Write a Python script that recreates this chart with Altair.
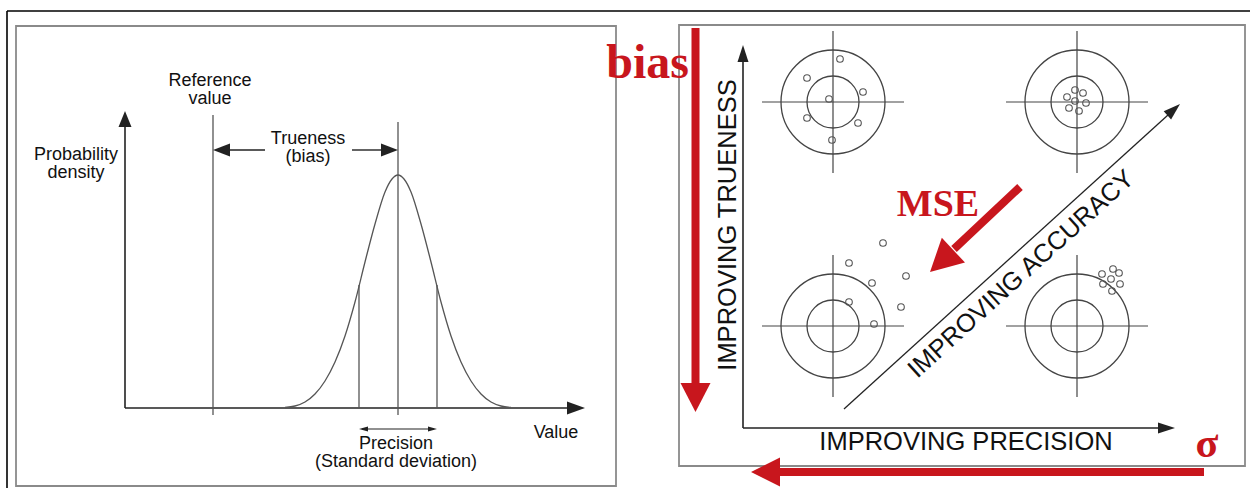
import altair as alt
import pandas as pd

W, H = 1250, 488
RED = "#c8161d"
INK = "#222222"
GREY = "#444444"

# ---------------- geometry (canvas pixels) ----------------
frame_lines = [(7, 11, 1250, 11), (7, 11, 7, 488)]
boxes = [(16, 26, 616, 486), (679, 25, 1245, 466)]

# left panel
left_axes = [(125, 408, 125, 126), (125, 408, 568, 408)]
left_verticals = [(213, 115, 213, 415), (398, 122, 398, 415),
                  (359, 285, 359, 408), (437, 285, 437, 408)]
trueness_shafts = [(229, 150, 265, 150), (352, 150, 382, 150)]
precision_shaft = [(362, 429, 434, 429)]

curve_x = [285, 295, 305, 315, 325, 335, 345, 355, 365, 375, 385, 392, 398,
           404, 411, 421, 431, 441, 451, 461, 471, 481, 491, 501, 511]
curve_y = [407.5, 406, 402, 394, 381, 362, 336, 302, 262, 224, 192, 179, 175,
           179, 192, 224, 262, 302, 336, 362, 381, 394, 402, 406, 407.5]

# right panel
right_axes = [(743, 428, 743, 62), (743, 428, 1158, 428)]
diag_line = [(844, 409, 1168, 115)]
red_shafts = [(695.5, 28, 695.5, 384), (1204, 472, 779, 472), (1020, 187, 954, 249)]

target_cx = [833, 1077, 833, 1077]
target_cy = [102, 102, 326, 326]
ring_r = [52, 26]
cross_half = 71

dots_x = [840, 807, 863, 829, 807, 858, 832,
          1075, 1083, 1067, 1075, 1086, 1069, 1079,
          883, 849, 906, 872, 849, 901, 874,
          1113, 1119, 1102, 1111, 1120, 1103, 1112]
dots_y = [59, 78, 92, 99, 118, 123, 140,
          90, 93, 97, 101, 103, 108, 111,
          243, 263, 276, 283, 302, 307, 324,
          269, 273, 274, 279, 284, 284, 291]

# arrowheads: tip x, tip y, length, width, angle (clockwise from up), colour
arrowheads = [
    (125, 111, 16, 13, 0, INK),
    (585, 408, 18, 13, 90, INK),
    (213, 150, 17, 13, 270, INK),
    (398, 150, 17, 13, 90, INK),
    (359, 429, 9, 5, 270, INK),
    (437, 429, 9, 5, 90, INK),
    (743, 45, 17, 11, 0, INK),
    (1175, 428, 17, 11, 90, INK),
    (1180, 104, 17, 11, 47.8, INK),
    (695.5, 412, 29, 30, 180, RED),
    (751, 472, 29, 29, 270, RED),
    (930, 272, 32, 34, 227, RED),
]

left_texts = [(210, 86, "Reference"), (210, 104, "value"),
              (76, 160, "Probability"), (76, 178, "density"),
              (308, 144, "Trueness"), (308, 162, "(bias)"),
              (396, 449, "Precision"), (396, 467, "(Standard deviation)"),
              (556, 438, "Value")]

# ---------------- helpers ----------------
XS = alt.Scale(domain=[0, W], nice=False, zero=False)
YS = alt.Scale(domain=[0, H], nice=False, zero=False, reverse=True)


def X(f="x"):
    return alt.X(f"{f}:Q", scale=XS, axis=None)


def Y(f="y"):
    return alt.Y(f"{f}:Q", scale=YS, axis=None)


def seg_layer(segs, color, width):
    df = pd.DataFrame(segs, columns=["x", "y", "x2", "y2"])
    return alt.Chart(df).mark_rule(color=color, strokeWidth=width, strokeCap="butt").encode(
        x=X(), y=Y(), x2="x2:Q", y2="y2:Q")


def head_layer(tx, ty, length, width, angle, color):
    w = width / (2.0 * length)
    shape = f"M0,0L{-w:.4f},1L{w:.4f},1Z"
    df = pd.DataFrame({"x": [tx], "y": [ty]})
    return alt.Chart(df).mark_point(shape=shape, size=(2 * length) ** 2, filled=True,
                                    color=color, opacity=1, angle=angle, strokeWidth=0).encode(
        x=X(), y=Y())


def text_layer(rows, font, size, color, weight="normal", align="center",
               baseline="alphabetic", angle=0):
    df = pd.DataFrame(rows, columns=["x", "y", "t"])
    return alt.Chart(df).mark_text(font=font, fontSize=size, color=color, fontWeight=weight,
                                   align=align, baseline=baseline, angle=angle).encode(
        x=X(), y=Y(), text="t:N")


layers = []

# boxes
box_df = pd.DataFrame(boxes, columns=["x", "y", "x2", "y2"])
layers.append(alt.Chart(box_df).mark_rect(fillOpacity=0, stroke="#8a8a8a", strokeWidth=1.8).encode(
    x=X(), y=Y(), x2="x2:Q", y2="y2:Q"))
layers.append(seg_layer(frame_lines, "#000000", 1.6))

# left panel
layers.append(seg_layer(left_axes, INK, 1.6))
layers.append(seg_layer(left_verticals, "#555555", 1.3))
layers.append(seg_layer(trueness_shafts, INK, 1.4))
layers.append(seg_layer(precision_shaft, INK, 1.1))
curve_df = pd.DataFrame({"x": curve_x, "y": curve_y})
layers.append(alt.Chart(curve_df).mark_line(color="#555555", strokeWidth=1.3,
                                            interpolate="monotone").encode(x=X(), y=Y()))

# right panel: targets
cross = []
for cx, cy in zip(target_cx, target_cy):
    cross.append((cx - cross_half, cy, cx + cross_half, cy))
    cross.append((cx, cy - cross_half, cx, cy + cross_half))
layers.append(seg_layer(cross, GREY, 1.2))
tgt_df = pd.DataFrame({"x": target_cx, "y": target_cy})
for r in ring_r:
    layers.append(alt.Chart(tgt_df).mark_point(shape="circle", filled=False, size=(2 * r) ** 2,
                                               stroke=GREY, strokeWidth=1.3, opacity=1).encode(
        x=X(), y=Y()))
dots_df = pd.DataFrame({"x": dots_x, "y": dots_y})
layers.append(alt.Chart(dots_df).mark_point(shape="circle", filled=False, size=44,
                                            stroke="#555555", strokeWidth=1.1, opacity=1).encode(
    x=X(), y=Y()))

layers.append(seg_layer(right_axes, INK, 1.6))
layers.append(seg_layer(diag_line, INK, 1.3))
layers.append(seg_layer(red_shafts, RED, 8))

for a in arrowheads:
    layers.append(head_layer(*a))

# texts
layers.append(text_layer(left_texts, "Liberation Sans", 18, "#111111"))
layers.append(text_layer([(728, 225, "IMPROVING TRUENESS")], "Liberation Sans", 25.5, "#111111",
                         baseline="middle", angle=270))
layers.append(text_layer([(966, 450, "IMPROVING PRECISION")], "Liberation Sans", 25.5, "#111111"))
layers.append(text_layer([(1021, 274, "IMPROVING ACCURACY")], "Liberation Sans", 25.5, "#111111",
                         baseline="middle", angle=317.8))
layers.append(text_layer([(689, 78, "bias")], "Liberation Serif", 48, RED, weight="bold",
                         align="right"))
layers.append(text_layer([(938, 216, "MSE")], "Liberation Serif", 38, RED, weight="bold"))
layers.append(text_layer([(1207, 457, "σ")], "Liberation Serif", 42, RED, weight="bold"))

chart = alt.layer(*layers).properties(
    width=W, height=H, padding=0, autosize=alt.AutoSizeParams(type="none")
).configure_view(strokeWidth=0)

chart.save("out.html", embed_options={"renderer": "svg", "actions": False})
